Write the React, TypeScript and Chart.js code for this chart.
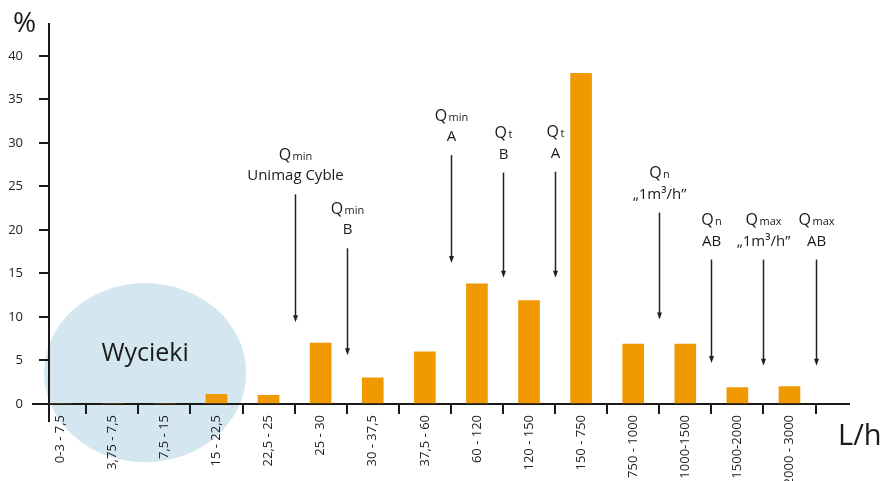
import { useEffect, useRef } from 'react';
import { Chart, registerables } from 'chart.js';

Chart.register(...registerables);

// ---- data ----
const categories = [
  '0-3 - 7,5', '3,75 - 7,5', '7,5 - 15', '15 - 22,5', '22,5 - 25', '25 - 30', '30 - 37,5',
  '37,5 - 60', '60 - 120', '120 - 150', '150 - 750', '750 - 1000', '1000-1500', '1500-2000', '2000 - 3000',
];
const shares = [0, 0, 0, 1.1, 1, 7, 3, 6, 13.8, 11.9, 38, 6.9, 6.9, 1.9, 2];
const yTickValues = [0, 5, 10, 15, 20, 25, 30, 35, 40];

// flow markers (arrows): position on the category axis, arrow start / end in %
const markerSymbols = ['Q', 'Q', 'Q', 'Q', 'Q', 'Q', 'Q', 'Q', 'Q'];
const markerSubs = ['min', 'min', 'min', 't', 't', 'n', 'n', 'max', 'max'];
const markerCaptions = ['Unimag Cyble', 'B', 'A', 'B', 'A', '\u201E1m\u00B3/h\u201D', 'AB', '\u201E1m\u00B3/h\u201D', 'AB'];
const markerX = [4.5, 5.5, 7.5, 8.5, 9.5, 11.5, 12.5, 13.5, 14.5];
const markerFrom = [24.1, 17.9, 28.6, 26.6, 26.7, 22.0, 16.6, 16.6, 16.6];
const markerTo = [9.4, 5.6, 16.2, 14.5, 14.5, 9.7, 4.7, 4.4, 4.4];

// leak zone
const leakLabel = 'Wycieki';
const leakCenter = [1.63, 3.6];
const leakRadius = [1.94, 10.3];

const yUnit = '%';
const xUnit = 'L/h';

const FAM = '"Open Sans", "DejaVu Sans", sans-serif';
const INK = '#1a1a1a';

const decor = {
  id: 'decor',
  beforeDraw(chart: any) {
    const { ctx, scales } = chart;
    const x = scales.x;
    const y = scales.y;
    const cx = x.getPixelForValue(leakCenter[0]);
    const cy = y.getPixelForValue(leakCenter[1]);
    const rx = Math.abs(x.getPixelForValue(leakCenter[0] + leakRadius[0]) - cx);
    const ry = Math.abs(y.getPixelForValue(leakCenter[1] + leakRadius[1]) - cy);
    ctx.save();
    ctx.fillStyle = '#d4e7f0';
    ctx.beginPath();
    ctx.ellipse(cx, cy, rx, ry, 0, 0, Math.PI * 2);
    ctx.fill();
    ctx.restore();
  },
  afterDraw(chart: any) {
    const { ctx, scales, chartArea } = chart;
    const x = scales.x;
    const y = scales.y;
    ctx.save();

    // axis extensions
    ctx.strokeStyle = INK;
    ctx.lineWidth = 2;
    ctx.beginPath();
    ctx.moveTo(chartArea.left, chartArea.bottom);
    ctx.lineTo(chartArea.left, chartArea.bottom + 18);
    ctx.moveTo(32, chartArea.bottom);
    ctx.lineTo(chartArea.left, chartArea.bottom);
    ctx.stroke();

    // leak label
    ctx.fillStyle = INK;
    ctx.font = `25px ${FAM}`;
    ctx.textAlign = 'center';
    ctx.textBaseline = 'alphabetic';
    ctx.fillText(leakLabel, x.getPixelForValue(leakCenter[0]), y.getPixelForValue(6.0) + 9);

    // markers
    for (let i = 0; i < markerX.length; i++) {
      const px = Math.round(x.getPixelForValue(markerX[i])) + 0.5;
      const y0 = y.getPixelForValue(markerFrom[i]);
      const y1 = y.getPixelForValue(markerTo[i]);
      ctx.strokeStyle = '#222';
      ctx.lineWidth = 1.5;
      ctx.beginPath();
      ctx.moveTo(px, y0);
      ctx.lineTo(px, y1 - 5);
      ctx.stroke();
      ctx.fillStyle = '#222';
      ctx.beginPath();
      ctx.moveTo(px - 2.5, y1 - 7);
      ctx.lineTo(px + 2.5, y1 - 7);
      ctx.lineTo(px, y1);
      ctx.closePath();
      ctx.fill();

      ctx.fillStyle = INK;
      ctx.textBaseline = 'alphabetic';
      ctx.textAlign = 'center';
      ctx.font = `15px ${FAM}`;
      ctx.fillText(markerCaptions[i], px, y0 - 19.5 + 5.5);

      ctx.font = `16px ${FAM}`;
      const wq = ctx.measureText(markerSymbols[i]).width;
      ctx.font = `11px ${FAM}`;
      const ws = ctx.measureText(markerSubs[i]).width;
      const gap = 1.5;
      const start = px - (wq + gap + ws) / 2;
      ctx.textAlign = 'left';
      ctx.font = `16px ${FAM}`;
      ctx.fillText(markerSymbols[i], start, y0 - 40 + 5.5);
      ctx.font = `11px ${FAM}`;
      ctx.fillText(markerSubs[i], start + wq + gap, y0 - 40 + 5.5);
    }

    // axis units
    ctx.textAlign = 'left';
    ctx.font = `28px ${FAM}`;
    ctx.fillText(yUnit, 13, 32);
    ctx.font = `29px ${FAM}`;
    ctx.fillText(xUnit, 838, 445);

    ctx.restore();
  },
};

export default function App() {
  const ref = useRef<HTMLCanvasElement | null>(null);

  useEffect(() => {
    document.body.style.margin = '0';
    const canvas = ref.current;
    if (!canvas) return;
    const axisGrid = {
      offset: false,
      drawOnChartArea: false,
      drawTicks: true,
      tickLength: 10,
      color: INK,
      lineWidth: 2,
    };
    const chart = new Chart(canvas, {
      type: 'bar',
      data: {
        datasets: [
          {
            data: shares.map((v, i) => ({ x: i, y: v })),
            backgroundColor: '#f09900',
            barThickness: 21,
          },
        ],
      },
      options: {
        animation: false,
        responsive: false,
        layout: { padding: { top: 20, right: 31, left: 0, bottom: 0 } },
        plugins: { legend: { display: false }, tooltip: { enabled: false } },
        scales: {
          x: {
            type: 'linear',
            offset: false,
            min: -0.215,
            max: 15.143,
            afterBuildTicks: (s: any) => {
              s.ticks = categories.map((_, i) => ({ value: i }));
            },
            afterFit: (s: any) => {
              s.height = 77;
            },
            grid: { ...axisGrid, offset: true },
            border: { display: true, color: INK, width: 2 },
            ticks: {
              autoSkip: false,
              minRotation: 90,
              maxRotation: 90,
              padding: 1,
              color: '#222',
              font: { family: FAM, size: 13 },
              callback: (v: any) => categories[v] ?? '',
            },
          },
          y: {
            min: 0,
            max: 43.7,
            afterBuildTicks: (s: any) => {
              s.ticks = yTickValues.map((v) => ({ value: v }));
            },
            afterFit: (s: any) => {
              s.width = 49;
            },
            grid: axisGrid,
            border: { display: true, color: INK, width: 2 },
            ticks: {
              padding: 16,
              color: '#222',
              font: { family: FAM, size: 13 },
            },
          },
        },
      },
      plugins: [decor],
    } as any);
    return () => chart.destroy();
  }, []);

  return (
    <div style={{ width: 880, height: 481 }}>
      <canvas ref={ref} width={880} height={481} style={{ display: 'block' }} />
    </div>
  );
}
